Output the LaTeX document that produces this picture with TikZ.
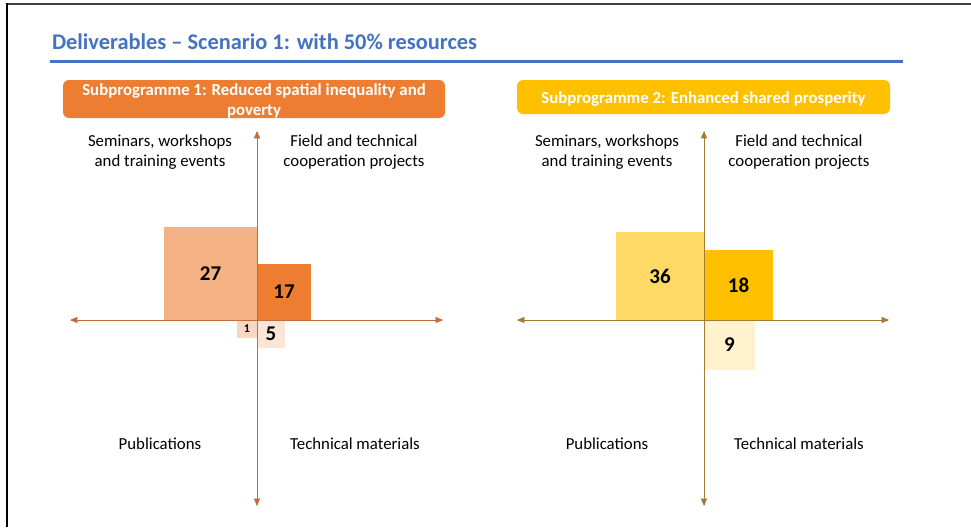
\documentclass[tikz,border=0pt]{standalone}
\usepackage{fontspec}
\setmainfont{Carlito}
\usepackage{tikz}
\usetikzlibrary{arrows}
\usetikzlibrary{positioning}

\definecolor{titleblue}{RGB}{68,114,196}
\definecolor{orangeA}{RGB}{237,125,49}
\definecolor{orangeB}{RGB}{244,177,131}
\definecolor{orangeC}{RGB}{251,229,214}
\definecolor{orangeD}{RGB}{250,215,193}
\definecolor{orangeAxis}{RGB}{190,110,60}
\definecolor{goldA}{RGB}{255,192,0}
\definecolor{goldB}{RGB}{255,217,102}
\definecolor{goldC}{RGB}{255,242,204}
\definecolor{goldAxis}{RGB}{160,125,50}

\begin{document}
\begin{tikzpicture}[
        x=1pt, y=-1pt,
        every node/.style={inner sep=0pt, outer sep=0pt},
        triangle 45-triangle 45
        ]
        \tikzstyle{banner} = [rounded corners=6pt, anchor=north west];
        \tikzstyle{bannertext} = [text=white, align=center,
            font=\fontsize{16.8}{20}\selectfont\bfseries];
        \tikzstyle{caption} = [align=center, font=\fontsize{16.8}{20}\selectfont];
        \tikzstyle{square} = [font=\fontsize{21}{21}\selectfont\bfseries];
        \tikzstyle{axisA} = [draw=orangeAxis, line width=0.7pt];
        \tikzstyle{axisB} = [draw=goldAxis, line width=0.7pt];

        \useasboundingbox (0,0) rectangle (971,527);
        \fill[white] (0,0) rectangle (971,527);
        \draw[-, line width=2pt, black!75] (6,4) -- (971,4);
        \draw[-, line width=2pt, black] (6.5,3) -- (6.5,527);

        \node[anchor=base west, text=titleblue, font=\fontsize{22.4}{26}\selectfont\bfseries]
            (title) at (52,49) {Deliverables -- Scenario 1: with 50\% resources};
        \draw[-, line width=3pt, titleblue] (50,62) -- (903,62);

        \node[banner, fill=orangeA, minimum width=382pt, minimum height=38pt] (sp1) at (63,80) {};
        \node[bannertext] (sp1t) at ([yshift=-2pt]sp1.center)
            {Subprogramme 1: Reduced spatial inequality and\\poverty};
        \node[banner, fill=goldA, minimum width=373pt, minimum height=34pt] (sp2) at (517,80) {};
        \node[bannertext] (sp2t) at ([yshift=-2pt]sp2.center)
            {Subprogramme 2: Enhanced shared prosperity};

        % subprogramme 1
        \coordinate (o1) at (257,320);
        \node[square, fill=orangeB, minimum width=93pt, minimum height=93pt,
            anchor=south east] (s27) at (o1) {27};
        \node[square, fill=orangeA, minimum width=54pt, minimum height=56pt,
            anchor=south west] (s17) at (o1) {17};
        \node[square, fill=orangeC, minimum width=28pt, minimum height=28pt,
            anchor=north west] (s5) at (o1) {5};
        \node[square, fill=orangeD, minimum width=20pt, minimum height=18pt,
            anchor=north east, font=\fontsize{12}{12}\selectfont\bfseries] (s1) at (o1) {1};
        \coordinate (l1) at (70,320);
        \coordinate (r1) at (443,320);
        \coordinate (t1) at (257,131);
        \coordinate (b1) at (257,506);
        \draw[axisA] (l1) -- (r1);
        \draw[axisA] (t1) -- (b1);

        \node[caption] (sem1) at (160,152) {Seminars, workshops\\and training events};
        \node[caption] (fld1) at (354,152) {Field and technical\\cooperation projects};
        \node[caption] (pub1) at (160,444) {Publications};
        \node[caption] (tec1) at (355,444) {Technical materials};

        % subprogramme 2
        \coordinate (o2) at (704,320);
        \node[square, fill=goldB, minimum width=88pt, minimum height=88pt,
            anchor=south east] (s36) at (o2) {36};
        \node[square, fill=goldA, minimum width=69pt, minimum height=70pt,
            anchor=south west] (s18) at (o2) {18};
        \node[square, fill=goldC, minimum width=51pt, minimum height=50pt,
            anchor=north west] (s9) at (o2) {9};
        \coordinate (l2) at (517,320);
        \coordinate (r2) at (889,320);
        \coordinate (t2) at (704,131);
        \coordinate (b2) at (704,506);
        \draw[axisB] (l2) -- (r2);
        \draw[axisB] (t2) -- (b2);

        \node[caption] (sem2) at (607,152) {Seminars, workshops\\and training events};
        \node[caption] (fld2) at (799,152) {Field and technical\\cooperation projects};
        \node[caption] (pub2) at (607,444) {Publications};
        \node[caption] (tec2) at (799,444) {Technical materials};
    \end{tikzpicture}
\end{document}
